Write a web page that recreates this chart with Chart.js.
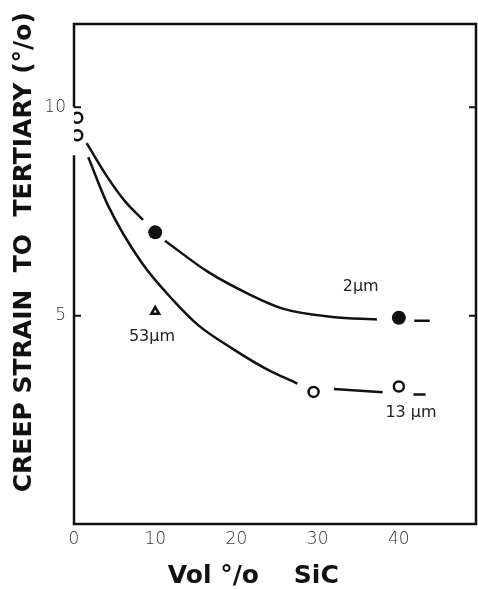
<!DOCTYPE html>
<html>
<head>
<meta charset="utf-8">
<script src="https://cdn.jsdelivr.net/npm/chart.js@4"></script>
<style>
  body { margin: 0; background: #fff; overflow: hidden; }
  canvas { display: block; }
</style>
</head>
<body>
<canvas id="creepChart" width="478" height="589"></canvas>
<script>
// upper curve (2 um) - null y marks gaps around the markers
const upper_x = [1.56, 4.2, 6.26, 8.5, 10, 11.2, 16.5, 21.4, 25.7, 31.8, 37.3, 40, 41.9, 43.8];
const upper_y = [9.14, 8.3, 7.75, 7.3, null, 6.8, 6.05, 5.53, 5.17, 4.97, 4.91, null, 4.88, 4.88];
// lower curve (13 um)
const lower_x = [1.76, 4.2, 8.3, 12.4, 15.25, 19.5, 23.6, 27.5, 30, 32, 38, 40, 41.8, 43.3];
const lower_y = [8.8, 7.64, 6.28, 5.33, 4.78, 4.21, 3.73, 3.37, null, 3.24, 3.16, null, 3.11, 3.11];

// measured points
const open_x = [0.4, 0.4, 29.5, 40];
const open_y = [9.75, 9.33, 3.17, 3.3];
const filled_x = [10, 40];
const filled_y = [7.0, 4.95];
const tri_x = [10];
const tri_y = [5.1];

const x_ticks = [0, 10, 20, 30, 40];
const y_ticks = [5, 10];

const note_text = ['2\u00b5m', '53\u00b5m', '13 \u00b5m'];
const note_x = [35.3, 9.6, 41.5];
const note_y = [5.69, 4.5, 2.66];

function pts(xs, ys) {
  return xs.map((x, i) => ({x: x, y: ys[i]}));
}

const framePlugin = {
  id: 'frame',
  beforeDatasetsDraw(chart) {
    const ctx = chart.ctx;
    const a = chart.chartArea;
    const ys = chart.scales.y;
    ctx.save();
    ctx.strokeStyle = '#111';
    ctx.lineWidth = 2.5;
    ctx.beginPath();
    // left axis, broken where the first points sit
    ctx.moveTo(a.left, ys.getPixelForValue(10));
    ctx.lineTo(a.left, a.top);
    ctx.lineTo(a.right, a.top);
    ctx.lineTo(a.right, a.bottom);
    ctx.lineTo(a.left, a.bottom);
    ctx.lineTo(a.left, ys.getPixelForValue(8.85));
    ctx.stroke();
    // inward tick marks
    ctx.lineWidth = 2;
    y_ticks.forEach(v => {
      const py = ys.getPixelForValue(v);
      ctx.beginPath();
      ctx.moveTo(a.left, py);
      ctx.lineTo(a.left + 7, py);
      ctx.moveTo(a.right, py);
      ctx.lineTo(a.right - 7, py);
      ctx.stroke();
    });
    ctx.restore();
  },
  afterDatasetsDraw(chart) {
    const ctx = chart.ctx;
    const xs = chart.scales.x, ys = chart.scales.y;
    ctx.save();
    ctx.fillStyle = '#222';
    ctx.font = '16px "DejaVu Sans", sans-serif';
    ctx.textAlign = 'center';
    ctx.textBaseline = 'middle';
    note_text.forEach((t, i) => {
      ctx.fillText(t, xs.getPixelForValue(note_x[i]), ys.getPixelForValue(note_y[i]));
    });
    ctx.restore();
  }
};

const curveStyle = {
  type: 'line',
  borderColor: '#111',
  borderWidth: 2.5,
  pointRadius: 0,
  fill: false,
  spanGaps: false,
  cubicInterpolationMode: 'monotone'
};

const tickFont = { family: '"DejaVu Sans", sans-serif', size: 17, weight: '300' };
const titleFont = { family: '"DejaVu Sans", sans-serif', size: 25, weight: 'bold', lineHeight: 1 };

new Chart('creepChart', {
  type: 'scatter',
  data: {
    datasets: [
      Object.assign({label: '2um', data: pts(upper_x, upper_y)}, curveStyle),
      Object.assign({label: '13um', data: pts(lower_x, lower_y)}, curveStyle),
      {
        label: 'open',
        data: pts(open_x, open_y),
        pointStyle: 'circle',
        pointRadius: 5,
        borderWidth: 2.5,
        borderColor: '#111',
        backgroundColor: '#fff'
      },
      {
        label: 'filled',
        data: pts(filled_x, filled_y),
        pointStyle: 'circle',
        pointRadius: 7,
        borderWidth: 0,
        backgroundColor: '#111'
      },
      {
        label: '53um',
        data: pts(tri_x, tri_y),
        pointStyle: 'triangle',
        pointRadius: 4.5,
        borderWidth: 2.5,
        borderColor: '#111',
        backgroundColor: '#fff'
      }
    ]
  },
  options: {
    responsive: false,
    animation: false,
    layout: { autoPadding: false, padding: { top: 24, right: 2, left: 0, bottom: 0 } },
    plugins: { legend: { display: false }, tooltip: { enabled: false } },
    scales: {
      x: {
        type: 'linear',
        min: 0,
        max: 49.5,
        grid: { display: false, drawTicks: false },
        border: { display: false },
        afterFit(s) { s.height = 65; s.paddingLeft = 0; s.paddingRight = 0; },
        ticks: {
          stepSize: 10,
          includeBounds: false,
          padding: 5,
          color: '#333',
          font: tickFont,
          callback: v => x_ticks.includes(v) ? String(v) : ''
        },
        title: {
          display: true,
          text: 'Vol \u00b0/o    SiC     ',
          color: '#111',
          padding: { top: 0, bottom: 0 },
          font: titleFont
        }
      },
      y: {
        type: 'linear',
        min: 0,
        max: 12,
        grid: { display: false, drawTicks: false },
        border: { display: false },
        afterFit(s) { s.width = 74; s.paddingTop = 0; s.paddingBottom = 0; },
        ticks: {
          stepSize: 5,
          includeBounds: false,
          padding: 8,
          color: '#333',
          font: tickFont,
          callback: v => y_ticks.includes(v) ? String(v) : ''
        },
        title: {
          display: true,
          text: '     CREEP STRAIN  TO  TERTIARY (\u00b0/o)',
          color: '#111',
          padding: { top: 12, bottom: 0 },
          font: titleFont
        }
      }
    }
  },
  plugins: [framePlugin]
});
</script>
</body>
</html>
